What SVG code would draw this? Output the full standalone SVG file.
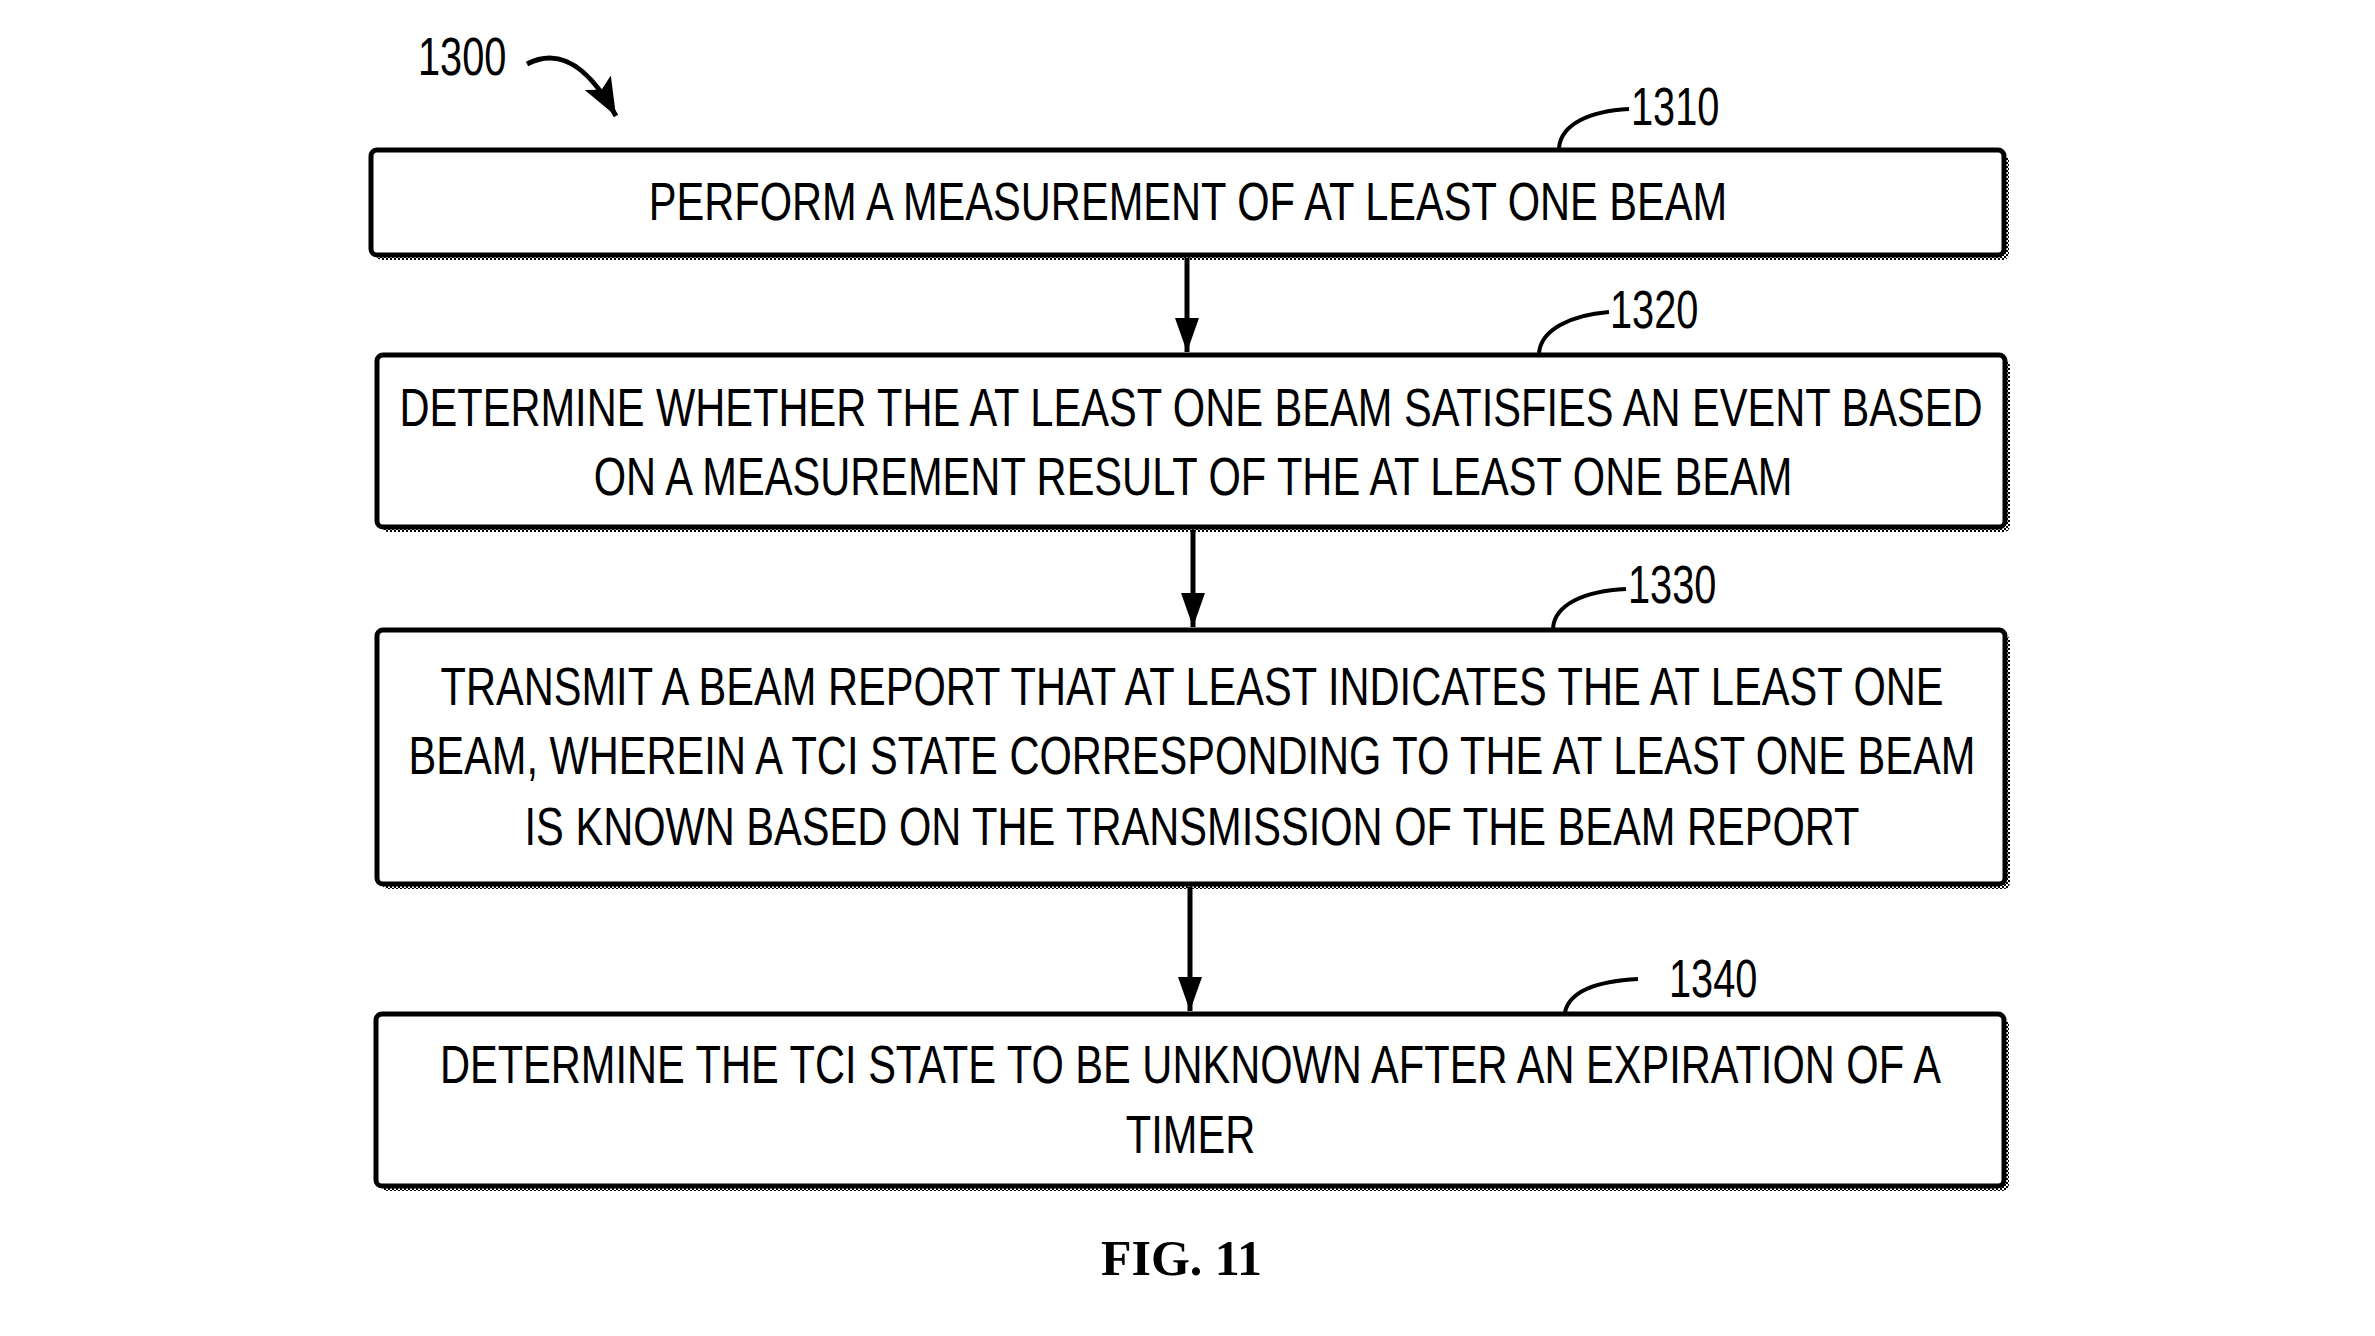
<svg xmlns="http://www.w3.org/2000/svg" width="2375" height="1336" viewBox="0 0 2375 1336">
  <defs>
    <pattern id="chk" width="4" height="4" patternUnits="userSpaceOnUse">
      <rect x="0" y="0" width="2" height="2" fill="#000"/>
      <rect x="2" y="2" width="2" height="2" fill="#000"/>
    </pattern>
    <marker id="ah" viewBox="0 0 34 24" refX="34" refY="12" markerWidth="34" markerHeight="24" markerUnits="userSpaceOnUse" orient="auto">
      <path d="M0,0 L34,12 L0,24 z" fill="#000"/>
    </marker>
    <marker id="ah2" viewBox="0 0 38 30" refX="38" refY="15" markerWidth="38" markerHeight="30" markerUnits="userSpaceOnUse" orient="auto">
      <path d="M0,0 L38,15 L0,30 L8,15 z" fill="#000"/>
    </marker>
  </defs>
  <style>
    .shadow { fill: url(#chk); }
    .box { fill: #fff; stroke: #000; stroke-width: 5; }
    .t { font-family: "Liberation Sans", Arial, sans-serif; font-size: 53px; fill: #000; text-anchor: middle; }
    .lbl { font-family: "Liberation Sans", Arial, sans-serif; font-size: 53px; fill: #000; }
    .lead { fill: none; stroke: #000; stroke-width: 4; }
    .conn { fill: none; stroke: #000; stroke-width: 5; }
    .fig { font-family: "Liberation Serif", "Times New Roman", serif; font-size: 50px; font-weight: bold; fill: #000; }
  </style>
  <rect x="0" y="0" width="2375" height="1336" fill="#fff"/>

  <g id="label-1300">
    <text class="lbl" transform="translate(418,75) scale(0.75,1)">1300</text>
    <path class="lead" style="stroke-width:5" d="M527,64 C565,44 594,76 616,116" marker-end="url(#ah2)"/>
  </g>

  <g id="node-1310">
    <rect class="shadow" x="376" y="155" width="1633" height="105" rx="6"/>
    <rect class="box" x="371" y="150" width="1633" height="105" rx="6"/>
    <text class="t" transform="translate(1188,220) scale(0.785,1)">PERFORM A MEASUREMENT OF AT LEAST ONE BEAM</text>
    <path class="lead" d="M1559,148 C1561,124 1590,111 1629,109"/>
    <text class="lbl" transform="translate(1631,125) scale(0.75,1)">1310</text>
  </g>

  <g id="node-1320">
    <rect class="shadow" x="382" y="360" width="1628" height="172" rx="6"/>
    <rect class="box" x="377" y="355" width="1628" height="172" rx="6"/>
    <text class="t" transform="translate(1191,426) scale(0.785,1)">DETERMINE WHETHER THE AT LEAST ONE BEAM SATISFIES AN EVENT BASED</text>
    <text class="t" transform="translate(1193,495) scale(0.785,1)">ON A MEASUREMENT RESULT OF THE AT LEAST ONE BEAM</text>
    <path class="lead" d="M1539,353 C1541,330 1570,315 1609,312"/>
    <text class="lbl" transform="translate(1610,328) scale(0.75,1)">1320</text>
  </g>

  <g id="node-1330">
    <rect class="shadow" x="382" y="635" width="1628" height="254" rx="6"/>
    <rect class="box" x="377" y="630" width="1628" height="254" rx="6"/>
    <text class="t" transform="translate(1192,705) scale(0.785,1)">TRANSMIT A BEAM REPORT THAT AT LEAST INDICATES THE AT LEAST ONE</text>
    <text class="t" transform="translate(1192,774) scale(0.785,1)">BEAM, WHEREIN A TCI STATE CORRESPONDING TO THE AT LEAST ONE BEAM</text>
    <text class="t" transform="translate(1192,845) scale(0.785,1)">IS KNOWN BASED ON THE TRANSMISSION OF THE BEAM REPORT</text>
    <path class="lead" d="M1553,628 C1555,604 1585,591 1626,589"/>
    <text class="lbl" transform="translate(1628,603) scale(0.75,1)">1330</text>
  </g>

  <g id="node-1340">
    <rect class="shadow" x="381" y="1019" width="1628" height="172" rx="6"/>
    <rect class="box" x="376" y="1014" width="1628" height="172" rx="6"/>
    <text class="t" transform="translate(1190.5,1083) scale(0.785,1)">DETERMINE THE TCI STATE TO BE UNKNOWN AFTER AN EXPIRATION OF A</text>
    <text class="t" transform="translate(1190.5,1153) scale(0.785,1)">TIMER</text>
    <path class="lead" d="M1565,1012 C1570,990 1600,981 1638,979"/>
    <text class="lbl" transform="translate(1669,997) scale(0.75,1)">1340</text>
  </g>

  <g id="connectors">
    <line class="conn" x1="1187" y1="258" x2="1187" y2="352" marker-end="url(#ah)"/>
    <line class="conn" x1="1193" y1="530" x2="1193" y2="627" marker-end="url(#ah)"/>
    <line class="conn" x1="1190" y1="887" x2="1190" y2="1011" marker-end="url(#ah)"/>
  </g>

  <text class="fig" x="1101" y="1275" textLength="161" lengthAdjust="spacingAndGlyphs">FIG. 11</text>
</svg>
